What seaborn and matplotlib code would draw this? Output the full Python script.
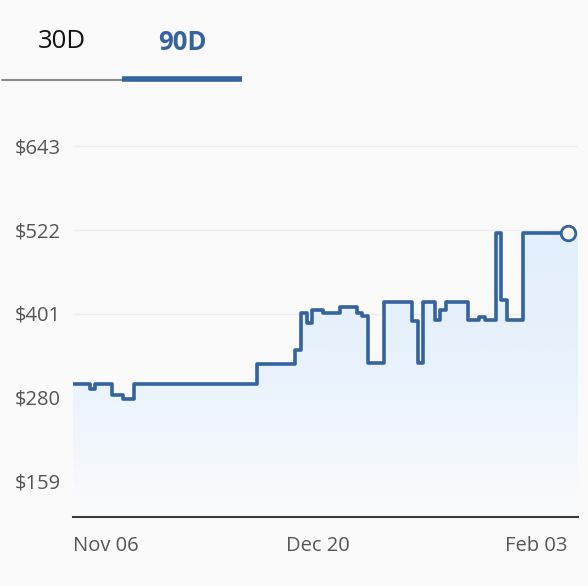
import numpy as np
import pandas as pd
import matplotlib
matplotlib.use("Agg")
import matplotlib.pyplot as plt
import seaborn as sns
from matplotlib.patches import Polygon
from matplotlib.colors import LinearSegmentedColormap

# ---- data ----
start_date = "2023-11-06"
change_days = [0, 3, 4, 7, 9, 11, 33, 40, 41, 42, 43, 45, 48, 51, 52, 53, 56,
               61, 62, 63, 65, 66, 67, 71, 73, 74, 76, 77, 78, 81, 89]
prices = [299, 292, 299, 283, 277, 299, 328, 348, 402, 387, 406, 402, 410, 402,
          397, 330, 418, 390, 330, 418, 392, 406, 418, 392, 396, 392, 517, 420,
          392, 517, 517]
ytick_values = [159, 280, 401, 522, 643]
ytick_labels = ["$159", "$280", "$401", "$522", "$643"]
xtick_labels = ["Nov 06", "Dec 20", "Feb 03"]
xtick_dates = ["2023-11-06", "2023-12-20", "2024-02-03"]
tabs = ["30D", "90D"]

dates = pd.to_datetime(start_date) + pd.to_timedelta(change_days, unit="D")
df = pd.DataFrame({"date": dates, "price": prices})

BG = "#fafafa"
LINE = "#35639e"

sns.set_theme(style="white")
plt.rcParams["font.family"] = ["Open Sans", "DejaVu Sans"]

fig = plt.figure(figsize=(5.88, 5.86), dpi=100, facecolor=BG)
ax = fig.add_axes([73 / 588, 1 - 517 / 586, (578 - 73) / 588, (517 - 110) / 586])
ax.set_facecolor(BG)

x0 = matplotlib.dates.date2num(df["date"].iloc[0])
x1 = matplotlib.dates.date2num(df["date"].iloc[-1])
xr = x1 + 1.8
ymin, ymax = 107, 695
ax.set_xlim(x0, xr)
ax.set_ylim(ymin, ymax)

# gridlines
for v in ytick_values:
    ax.axhline(v, color="#eeeeee", lw=1.0, zorder=0)

# gradient fill under the step line
xs = matplotlib.dates.date2num(df["date"])
px, py = [], []
for i in range(len(xs) - 1):
    px += [xs[i], xs[i + 1]]
    py += [prices[i], prices[i]]
px += [xs[-1], xr]
py += [prices[-1], prices[-1]]
verts = [(px[0], ymin)] + list(zip(px, py)) + [(xr, ymin)]
poly = Polygon(verts, closed=True, facecolor="none", edgecolor="none")
ax.add_patch(poly)
grad = np.linspace(0, 1, 256).reshape(-1, 1)
cmap = LinearSegmentedColormap.from_list("g", ["#fbfcfd", "#e9f2fc", "#e3effc"])
im = ax.imshow(grad, extent=[x0, xr, ymin, 520], origin="lower", aspect="auto",
               cmap=cmap, zorder=1)
im.set_clip_path(poly)

sns.lineplot(data=df, x="date", y="price", drawstyle="steps-post", color=LINE,
             lw=2.6, ax=ax, zorder=3)
for l in ax.lines:
    l.set_solid_joinstyle("round")
    l.set_solid_capstyle("round")
ax.plot(df["date"].iloc[-1], prices[-1], "o", ms=10.5, mfc="white", mec=LINE,
        mew=2.0, zorder=4)

ax.set_xlim(x0, xr)
ax.set_ylim(ymin, ymax)
ax.set_yticks(ytick_values)
ax.set_yticklabels(ytick_labels, color="#555555", fontsize=14.5)
ax.set_xticks(pd.to_datetime(xtick_dates))
ax.set_xticklabels(xtick_labels, color="#555555", fontsize=14.5)
ha = ["left", "center", "right"]
for t, h in zip(ax.get_xticklabels(), ha):
    t.set_ha(h)
ax.tick_params(axis="y", length=0, pad=9)
ax.tick_params(axis="x", length=0, pad=14)
ax.set_xlabel("")
ax.set_ylabel("")
for s in ["top", "right", "left"]:
    ax.spines[s].set_visible(False)
ax.spines["bottom"].set_color("#3a3a3a")
ax.spines["bottom"].set_linewidth(1.5)

# tabs
fig.text(62 / 588, 1 - 42 / 586, tabs[0], ha="center", va="center",
         fontsize=18.5, color="#111111")
fig.text(182 / 588, 1 - 42 / 586, tabs[1], ha="center", va="center",
         fontsize=18.5, color=LINE, fontweight="bold")
fig.add_artist(plt.Line2D([2 / 588, 122 / 588], [1 - 80 / 586] * 2,
                          color="#8a8a8a", lw=1.5))
fig.add_artist(plt.Line2D([122 / 588, 242 / 588], [1 - 78.5 / 586] * 2,
                          color=LINE, lw=4, solid_capstyle="butt"))

fig.savefig("out.png", dpi=100, facecolor=BG)
